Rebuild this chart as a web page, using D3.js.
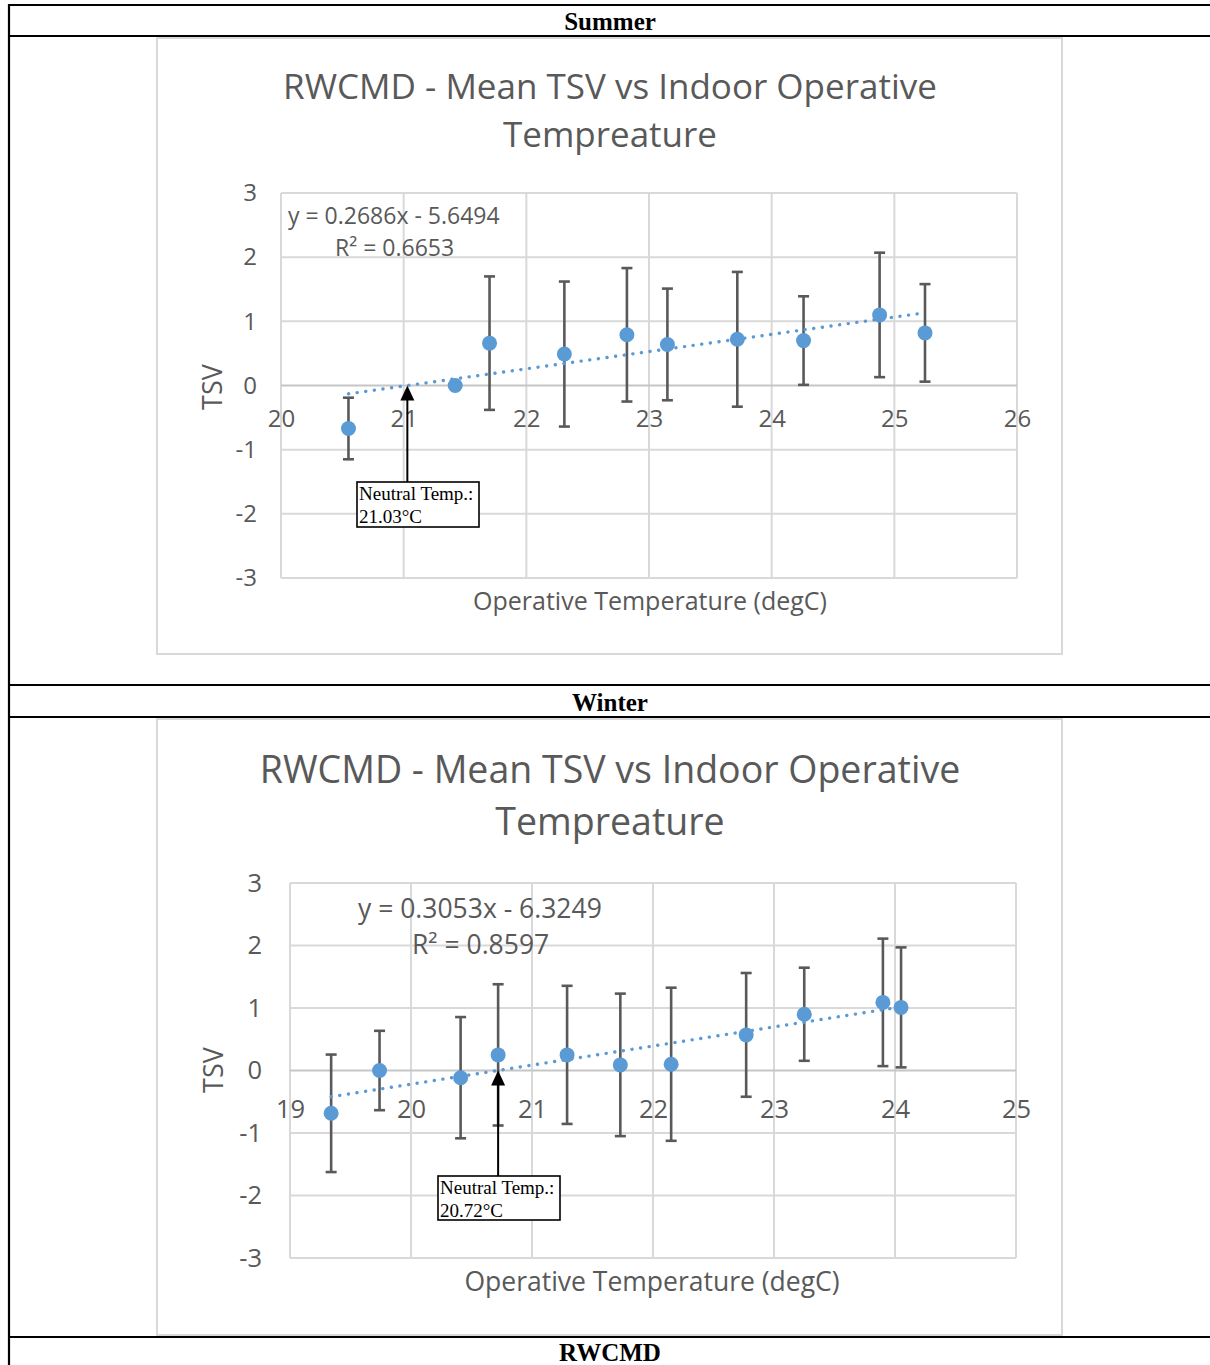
<!DOCTYPE html>
<html>
<head>
<meta charset="utf-8">
<script src="https://cdn.jsdelivr.net/npm/d3@7"></script>
<style>
  body { margin: 0; background: #fff; }
  svg { display: block; }
</style>
</head>
<body>
<svg id="page" width="1210" height="1365"></svg>
<script>
// ---- Summer: mean TSV per indoor operative temperature bin ----
const summerTemp = [20.55, 21.42, 21.70, 22.31, 22.82, 23.15, 23.72, 24.26, 24.88, 25.25];
const summerTSV  = [-0.67, 0.00, 0.66, 0.49, 0.79, 0.64, 0.72, 0.70, 1.10, 0.82];
const summerErr  = [0.48, 0.00, 1.04, 1.13, 1.04, 0.87, 1.05, 0.69, 0.97, 0.76];
const summerSlope = 0.2686;
const summerIntercept = -5.6494;
const summerR2 = "0.6653";
const summerNeutral = 21.03;
const summerXTicks = [20, 21, 22, 23, 24, 25, 26];

// ---- Winter ----
const winterTemp = [19.34, 19.74, 20.41, 20.72, 21.29, 21.73, 22.15, 22.77, 23.25, 23.90, 24.05];
const winterTSV  = [-0.685, 0.00, -0.115, 0.25, 0.25, 0.09, 0.10, 0.57, 0.90, 1.09, 1.01];
const winterErr  = [0.94, 0.635, 0.97, 1.13, 1.105, 1.14, 1.225, 0.99, 0.745, 1.02, 0.96];
const winterSlope = 0.3053;
const winterIntercept = -6.3249;
const winterR2 = "0.8597";
const winterNeutral = 20.72;
const winterXTicks = [19, 20, 21, 22, 23, 24, 25];

const yTicks = [-3, -2, -1, 0, 1, 2, 3];
const titleLines = ["RWCMD - Mean TSV vs Indoor Operative", "Tempreature"];
const xAxisTitle = "Operative Temperature (degC)";
const yAxisTitle = "TSV";
const sectionHeads = ["Summer", "Winter", "RWCMD"];

const svg = d3.select("#page");
const SANS = "'Open Sans', 'Noto Sans', sans-serif";
const SERIF = "'Liberation Serif', 'Times New Roman', serif";
const TXT = "#595959";
const BLUE = "#5b9bd5";
const plainNum = d => String(d);   // hyphen minus, no decimals

// ---- table rules and section headings ----
const rules = [5, 36, 685, 717, 1337];
rules.forEach(y => svg.append("line")
  .attr("x1", 8).attr("x2", 1210).attr("y1", y).attr("y2", y)
  .attr("stroke", "#000").attr("stroke-width", 2.2));
svg.append("line").attr("x1", 9).attr("x2", 9).attr("y1", 4).attr("y2", 1365)
  .attr("stroke", "#000").attr("stroke-width", 2.2);
const headY = [30, 711, 1361];
sectionHeads.forEach((t, i) => svg.append("text")
  .attr("x", 610).attr("y", headY[i]).attr("text-anchor", "middle")
  .attr("font-family", SERIF).attr("font-weight", "bold").attr("font-size", 25)
  .attr("fill", "#000").text(t));

function drawChart(o) {
  const g = svg.append("g");
  // chart area frame
  g.append("rect").attr("x", o.frame[0]).attr("y", o.frame[1])
    .attr("width", o.frame[2]).attr("height", o.frame[3])
    .attr("fill", "#fff").attr("stroke", "#d9d9d9").attr("stroke-width", 2);

  const x = d3.scaleLinear().domain(o.xDomain).range([o.plot[0], o.plot[0] + o.plot[2]]);
  const y = d3.scaleLinear().domain([-3, 3]).range([o.plot[1] + o.plot[3], o.plot[1]]);

  // title
  o.title.forEach((t, i) => g.append("text")
    .attr("x", o.titleX).attr("y", o.titleY[i]).attr("text-anchor", "middle")
    .attr("font-family", SANS).attr("font-size", o.titleSize).attr("fill", TXT).text(t));

  // gridlines
  g.selectAll(".vg").data(o.xTicks).join("line")
    .attr("x1", d => x(d)).attr("x2", d => x(d))
    .attr("y1", y(3)).attr("y2", y(-3))
    .attr("stroke", "#d9d9d9").attr("stroke-width", 2);
  g.selectAll(".hg").data(yTicks).join("line")
    .attr("x1", x(o.xDomain[0])).attr("x2", x(o.xDomain[1]))
    .attr("y1", d => y(d)).attr("y2", d => y(d))
    .attr("stroke", d => d === 0 ? "#c6c6c6" : "#d9d9d9").attr("stroke-width", 2);

  // y-axis tick labels
  const ya = g.append("g").attr("transform", `translate(${x(o.xDomain[0])},0)`)
    .call(d3.axisLeft(y).tickValues(yTicks).tickFormat(plainNum).tickSize(0).tickPadding(o.yPad));
  ya.select(".domain").remove();
  ya.selectAll("text").attr("font-family", SANS).attr("font-size", o.tickSize).attr("fill", TXT);

  // x-axis tick labels sit along the TSV = 0 line
  const xa = g.append("g").attr("transform", `translate(0,${y(0)})`)
    .call(d3.axisBottom(x).tickValues(o.xTicks).tickFormat(plainNum).tickSize(0).tickPadding(o.xPad));
  xa.select(".domain").remove();
  xa.selectAll("text").attr("font-family", SANS).attr("font-size", o.tickSize).attr("fill", TXT);

  // axis titles
  g.append("text").attr("x", o.xTitle[0]).attr("y", o.xTitle[1]).attr("text-anchor", "middle")
    .attr("font-family", SANS).attr("font-size", o.axisTitleSize).attr("fill", TXT).text(xAxisTitle);
  g.append("text").attr("transform", `translate(${o.yTitle[0]},${o.yTitle[1]}) rotate(-90)`)
    .attr("text-anchor", "middle").attr("dominant-baseline", "central")
    .attr("font-family", SANS).attr("font-size", o.yTitleSize).attr("fill", TXT).text(yAxisTitle);

  const pts = o.temp.map((t, i) => ({ t, v: o.tsv[i], e: o.err[i] }));

  // error bars
  const eb = g.append("g").attr("stroke", "#595959").attr("stroke-width", 2.6);
  pts.filter(d => d.e > 0).forEach(d => {
    eb.append("line").attr("x1", x(d.t)).attr("x2", x(d.t)).attr("y1", y(d.v - d.e)).attr("y2", y(d.v + d.e));
    [d.v - d.e, d.v + d.e].forEach(v => eb.append("line")
      .attr("x1", x(d.t) - 5.5).attr("x2", x(d.t) + 5.5).attr("y1", y(v)).attr("y2", y(v)));
  });

  // linear trendline over the observed temperature range
  const tMin = d3.min(o.temp), tMax = d3.max(o.temp);
  g.append("line")
    .attr("x1", x(tMin)).attr("y1", y(o.slope * tMin + o.intercept))
    .attr("x2", x(tMax)).attr("y2", y(o.slope * tMax + o.intercept))
    .attr("stroke", BLUE).attr("stroke-width", 3.4)
    .attr("stroke-linecap", "round").attr("stroke-dasharray", "0.1 8.6");

  // mean TSV markers
  g.selectAll(".pt").data(pts).join("circle")
    .attr("cx", d => x(d.t)).attr("cy", d => y(d.v)).attr("r", 7.5).attr("fill", BLUE);

  // regression equation
  const sign = o.intercept < 0 ? " - " : " + ";
  g.append("text").attr("x", o.eqPos[0]).attr("y", o.eqPos[1])
    .attr("font-family", SANS).attr("font-size", o.eqSize).attr("fill", TXT)
    .text(`y = ${o.slope}x${sign}${Math.abs(o.intercept)}`);
  g.append("text").attr("x", o.r2Pos[0]).attr("y", o.r2Pos[1])
    .attr("font-family", SANS).attr("font-size", o.eqSize).attr("fill", TXT)
    .text("R² = " + o.r2);

  // neutral temperature callout
  const ax = x(o.neutral), ay = y(0);
  const bx = o.box[0], by = o.box[1];
  g.append("line").attr("x1", ax).attr("x2", ax).attr("y1", ay + 12).attr("y2", by)
    .attr("stroke", "#000").attr("stroke-width", 2);
  g.append("path").attr("d", `M${ax},${ay} L${ax - 7},${ay + 15} L${ax + 7},${ay + 15} Z`).attr("fill", "#000");
  g.append("rect").attr("x", bx).attr("y", by).attr("width", o.box[2]).attr("height", o.box[3])
    .attr("fill", "#fff").attr("stroke", "#000").attr("stroke-width", 1.6);
  g.append("text").attr("x", bx + 2).attr("y", by + 18)
    .attr("font-family", SERIF).attr("font-size", 19).attr("fill", "#000").text("Neutral Temp.:");
  g.append("text").attr("x", bx + 2).attr("y", by + 41)
    .attr("font-family", SERIF).attr("font-size", 19).attr("fill", "#000").text(`${o.neutral}°C`);
}

drawChart({
  frame: [157, 38, 905, 616],
  plot: [281, 193, 736, 385],
  xDomain: [20, 26], xTicks: summerXTicks,
  temp: summerTemp, tsv: summerTSV, err: summerErr,
  slope: summerSlope, intercept: summerIntercept, r2: summerR2, neutral: summerNeutral,
  title: titleLines, titleX: 610, titleY: [99, 147], titleSize: 35,
  tickSize: 24, yPad: 24, xPad: 24,
  axisTitleSize: 25, xTitle: [650, 610], yTitle: [211, 387], yTitleSize: 27,
  eqSize: 23, eqPos: [288, 224], r2Pos: [335, 256],
  box: [357, 482, 122, 45]
});

drawChart({
  frame: [157, 719, 905, 616],
  plot: [290, 883, 726, 375],
  xDomain: [19, 25], xTicks: winterXTicks,
  temp: winterTemp, tsv: winterTSV, err: winterErr,
  slope: winterSlope, intercept: winterIntercept, r2: winterR2, neutral: winterNeutral,
  title: titleLines, titleX: 610, titleY: [783, 835], titleSize: 37.5,
  tickSize: 25.5, yPad: 28, xPad: 29,
  axisTitleSize: 26.5, xTitle: [652, 1291], yTitle: [212, 1070], yTitleSize: 27,
  eqSize: 26.5, eqPos: [358, 918], r2Pos: [412, 954],
  box: [438, 1176, 122, 44]
});
</script>
</body>
</html>
